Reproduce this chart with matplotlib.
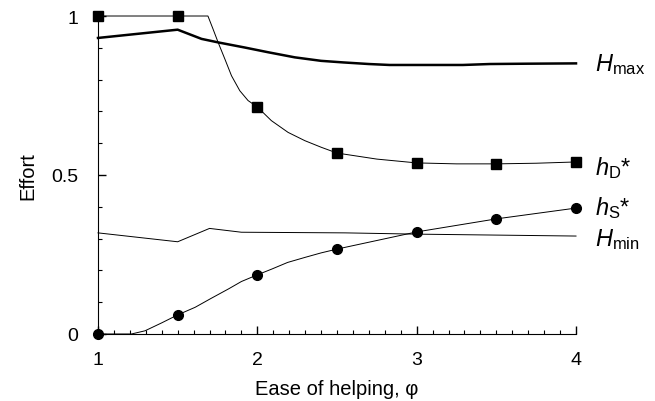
import matplotlib
matplotlib.use("Agg")
import matplotlib.pyplot as plt
from matplotlib.ticker import MultipleLocator

plt.rcParams['font.family'] = ['Liberation Sans', 'DejaVu Sans']
plt.rcParams['mathtext.fontset'] = 'custom'
plt.rcParams['mathtext.rm'] = 'Liberation Sans'
plt.rcParams['mathtext.it'] = 'Liberation Sans:italic'

# h_D* (squares + curve)
hd_mark_x = [1, 1.5, 2, 2.5, 3, 3.5, 4]
hd_mark_y = [1.0, 1.0, 0.714, 0.569, 0.538, 0.535, 0.541]
hd_line_x = [1, 1.5, 1.69, 1.722, 1.754, 1.796, 1.838, 1.890, 1.942, 2.0,
             2.088, 2.193, 2.298, 2.402, 2.5, 2.75, 3, 3.25, 3.5, 3.75, 4]
hd_line_y = [1.0, 1.0, 1.0, 0.959, 0.917, 0.865, 0.812, 0.765, 0.734, 0.714,
             0.671, 0.634, 0.608, 0.587, 0.569, 0.550, 0.538, 0.535, 0.535, 0.537, 0.541]

# H_max
hmax_x = [1, 1.5, 1.65, 1.754, 1.92, 2.068, 2.235, 2.40, 2.54, 2.70, 2.83, 3.29, 3.46, 3.69, 4]
hmax_y = [0.931, 0.957, 0.928, 0.917, 0.901, 0.886, 0.870, 0.859, 0.854, 0.849, 0.846, 0.846,
          0.849, 0.850, 0.851]

# H_min
hmin_x = [1, 1.5, 1.70, 1.90, 2.55, 3, 4]
hmin_y = [0.318, 0.290, 0.332, 0.320, 0.318, 0.314, 0.308]

# h_S* (circles + curve)
hs_mark_x = [1, 1.5, 2, 2.5, 3, 3.5, 4]
hs_mark_y = [0.0, 0.060, 0.186, 0.267, 0.321, 0.362, 0.396]
hs_line_x = [1, 1.21, 1.295, 1.40, 1.5, 1.61, 1.71, 1.82, 1.90, 2.0, 2.09, 2.19, 2.30, 2.40,
             2.5, 3, 3.5, 4]
hs_line_y = [0.0, 0.0, 0.010, 0.035, 0.060, 0.084, 0.112, 0.142, 0.165, 0.186, 0.204, 0.225,
             0.241, 0.255, 0.267, 0.321, 0.362, 0.396]

fig = plt.figure(figsize=(6.55, 4.02), dpi=100)
ax = fig.add_axes([0.1496, 0.1667, 0.7298, 0.791])

ax.plot(hmax_x, hmax_y, color='black', lw=1.8, clip_on=False)
ax.plot(hmin_x, hmin_y, color='black', lw=0.7, clip_on=False)
ax.plot(hd_line_x, hd_line_y, color='black', lw=0.7, clip_on=False)
ax.plot(hd_mark_x, hd_mark_y, ls='none', marker='s', ms=7, color='black', clip_on=False, zorder=5)
ax.plot(hs_line_x, hs_line_y, color='black', lw=0.7, clip_on=False)
ax.plot(hs_mark_x, hs_mark_y, ls='none', marker='o', ms=7, color='black', clip_on=False, zorder=5)

ax.set_xlim(1, 4)
ax.set_ylim(0, 1)
ax.spines['top'].set_visible(False)
ax.spines['right'].set_visible(False)
ax.set_xticks([1, 2, 3, 4])
ax.set_xticklabels(['1', '2', '3', '4'])
ax.xaxis.set_minor_locator(MultipleLocator(0.1))
ax.set_yticks([0, 0.5, 1])
ax.set_yticklabels(['0', '0.5', '1'])
ax.yaxis.set_minor_locator(MultipleLocator(0.1))
ax.tick_params(which='major', direction='in', length=6, width=1, labelsize=14, pad=12)
ax.tick_params(which='minor', direction='in', length=3, width=0.8)
ax.tick_params(axis='y', which='major', pad=14)

ax.set_xlabel('Ease of helping, φ', fontsize=14.5, labelpad=8)
ax.set_ylabel('Effort', fontsize=14.5, labelpad=10)

lab_kw = dict(transform=ax.transData, fontsize=17, va='center', ha='left', clip_on=False)
ax.text(4.12, 0.852, r'$H_{\rm max}$', **lab_kw)
ax.text(4.12, 0.525, r'$h_{\rm D}$*', **lab_kw)
ax.text(4.12, 0.40, r'$h_{\rm S}$*', **lab_kw)
ax.text(4.12, 0.30, r'$H_{\rm min}$', **lab_kw)

fig.savefig('out.png', dpi=100)
